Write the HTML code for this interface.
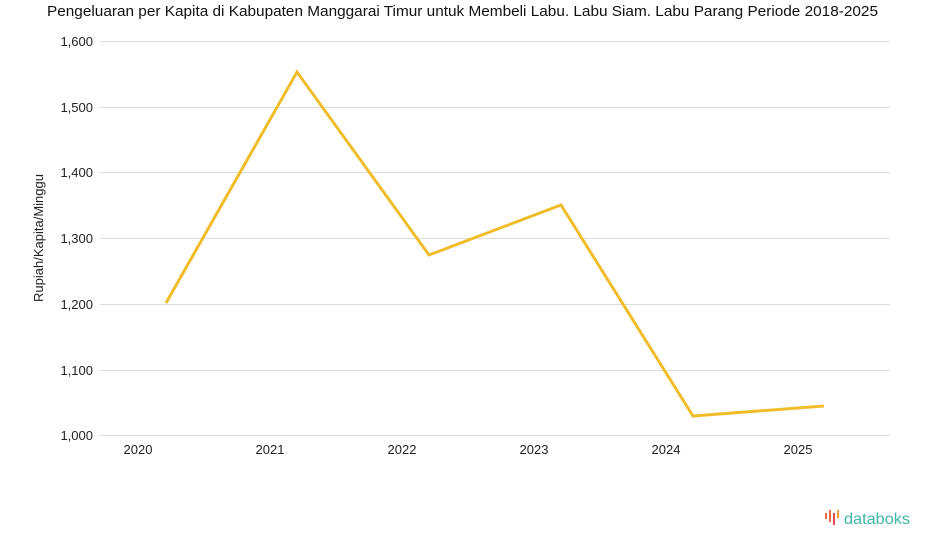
<!DOCTYPE html>
<html><head><meta charset="utf-8"><style>
html,body{margin:0;padding:0;background:#fff;}
body{width:925px;height:547px;overflow:hidden;font-family:"Liberation Sans",sans-serif;}
</style></head><body>
<svg width="925" height="547" xmlns="http://www.w3.org/2000/svg" font-family="Liberation Sans, sans-serif">
<text x="47" y="16" font-size="15" fill="#111" textLength="831" lengthAdjust="spacingAndGlyphs">Pengeluaran per Kapita di Kabupaten Manggarai Timur untuk Membeli Labu. Labu Siam. Labu Parang Periode 2018-2025</text>
<g stroke="#dcdcdc" stroke-width="1">
<line x1="100" x2="890" y1="41.5" y2="41.5"/>
<line x1="100" x2="890" y1="107.5" y2="107.5"/>
<line x1="100" x2="890" y1="172.5" y2="172.5"/>
<line x1="100" x2="890" y1="238.5" y2="238.5"/>
<line x1="100" x2="890" y1="304.5" y2="304.5"/>
<line x1="100" x2="890" y1="370.5" y2="370.5"/>
<line x1="100" x2="890" y1="435.5" y2="435.5"/>
</g>
<g font-size="13" fill="#222" text-anchor="end">
<text x="93" y="46">1,600</text>
<text x="93" y="112">1,500</text>
<text x="93" y="177">1,400</text>
<text x="93" y="243">1,300</text>
<text x="93" y="309">1,200</text>
<text x="93" y="375">1,100</text>
<text x="93" y="440">1,000</text>
</g>
<g font-size="13" fill="#222" text-anchor="middle">
<text x="138" y="454">2020</text>
<text x="270" y="454">2021</text>
<text x="402" y="454">2022</text>
<text x="534" y="454">2023</text>
<text x="666" y="454">2024</text>
<text x="798" y="454">2025</text>
</g>
<text transform="translate(43,238) rotate(-90)" text-anchor="middle" font-size="13" fill="#222">Rupiah/Kapita/Minggu</text>
<polyline fill="none" stroke="#f0bd2a" stroke-width="3" stroke-linejoin="miter" points="166,303 297,72 429,255 561,205 693,416 824,406"/>
<g fill="#ee6a4a">
<rect x="825" y="513" width="2" height="6"/>
<rect x="829" y="510" width="2" height="12"/>
<rect x="833" y="513" width="2" height="12" fill="#e94b57"/>
<rect x="837" y="510" width="2" height="8" fill="#f59b3c"/>
</g>
<text x="844" y="524" font-size="16" fill="#3fb5a8" textLength="66" lengthAdjust="spacingAndGlyphs">databoks</text>
</svg>
</body></html>
